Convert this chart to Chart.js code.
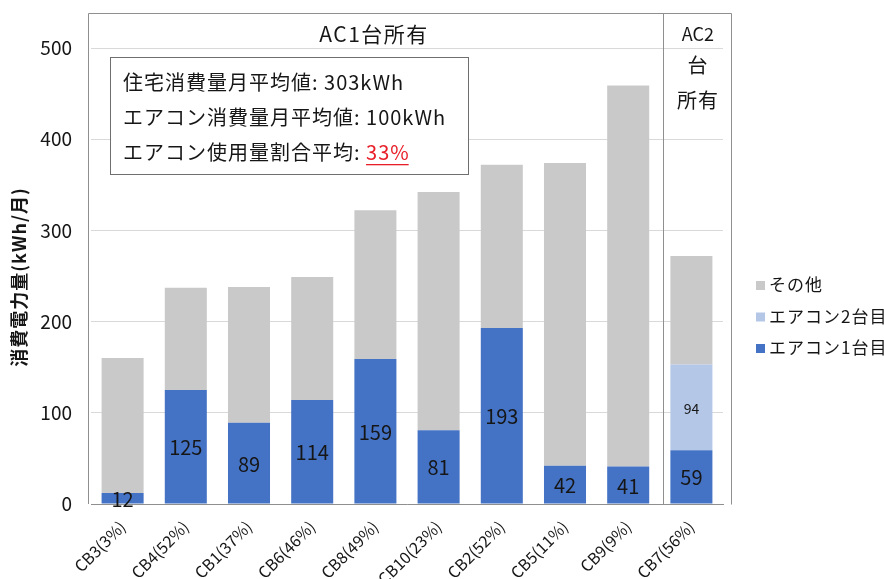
<!DOCTYPE html>
<html>
<head>
<meta charset="utf-8">
<script src="https://cdn.jsdelivr.net/npm/chart.js@4/dist/chart.umd.min.js"></script>
<style>
  html, body { margin: 0; padding: 0; background: #ffffff; }
  #wrap { width: 884px; height: 579px; }
</style>
</head>
<body>
<div id="wrap"><canvas id="c" width="884" height="579"></canvas></div>
<script>
// Monthly household consumption per home, split into air-conditioner use and the rest
const categories = ['CB3(3%)', 'CB4(52%)', 'CB1(37%)', 'CB6(46%)', 'CB8(49%)', 'CB10(23%)', 'CB2(52%)', 'CB5(11%)', 'CB9(9%)', 'CB7(56%)'];
const ac1Values = [12, 125, 89, 114, 159, 81, 193, 42, 41, 59];
const ac2Values = [null, null, null, null, null, null, null, null, null, 94];
const otherValues = [148, 112, 149, 135, 163, 261, 179, 332, 418, 119];
const seriesNames = ['エアコン1台目', 'エアコン2台目', 'その他'];
const yTickValues = [0, 100, 200, 300, 400, 500];
const yTitle = '消費電力量(kWh/月)';
const groupOneLabel = 'AC1台所有';
const groupTwoLabel = ['AC2', '台', '所有'];
const summaryLines = [
  ['住宅消費量月平均値: ', '303kWh'],
  ['エアコン消費量月平均値: ', '100kWh'],
  ['エアコン使用量割合平均: ', '33%']
];

const FONT = "'Noto Sans CJK JP', 'Noto Sans', sans-serif";
const INK = '#161616';
const COLORS = ['#4472c4', '#b4c7e7', '#c9c9c9'];

function spaced(ctx, px) {
  if ('letterSpacing' in ctx) ctx.letterSpacing = px + 'px';
}

// Frame, group headers, summary box, value labels and legend
const overlay = {
  id: 'overlay',
  afterDatasetsDraw(chart) {
    const { ctx, chartArea: a, scales } = chart;
    const x = scales.x;
    ctx.save();

    // value labels inside the air-conditioner segments
    ctx.fillStyle = INK;
    ctx.textAlign = 'center';
    ctx.textBaseline = 'middle';
    [0, 1].forEach(di => {
      const meta = chart.getDatasetMeta(di);
      const vals = chart.data.datasets[di].data;
      ctx.font = (di === 0 ? '20px ' : '14px ') + FONT;
      meta.data.forEach((bar, i) => {
        if (vals[i] == null) return;
        const cy = (bar.y + bar.base) / 2;
        ctx.fillText(String(vals[i]), bar.x, cy + 1);
      });
    });

    // outer frame and group divider
    const left = a.left - 3, right = a.right + 8, top = 13, bottom = a.bottom;
    const divX = (x.getPixelForValue(8) + x.getPixelForValue(9)) / 2 + 3;
    ctx.strokeStyle = '#8f8f8f';
    ctx.lineWidth = 1;
    ctx.beginPath();
    ctx.moveTo(left + 0.5, bottom);
    ctx.lineTo(left + 0.5, top + 0.5);
    ctx.lineTo(right + 0.5, top + 0.5);
    ctx.lineTo(right + 0.5, bottom + 0.5);
    ctx.moveTo(Math.round(divX) + 0.5, top);
    ctx.lineTo(Math.round(divX) + 0.5, bottom);
    ctx.stroke();

    // group headers
    ctx.fillStyle = INK;
    ctx.textAlign = 'center';
    spaced(ctx, 1.5);
    ctx.font = '21px ' + FONT;
    ctx.fillText(groupOneLabel, 374, 34);
    const c2 = (divX + right) / 2 + 1;
    spaced(ctx, 0);
    ctx.font = '18px ' + FONT;
    ctx.fillText(groupTwoLabel[0], c2, 34);
    ctx.font = '20px ' + FONT;
    spaced(ctx, 1);
    ctx.fillText(groupTwoLabel[1], c2, 65);
    ctx.fillText(groupTwoLabel[2], c2, 100);

    // summary box
    const bx = 110, by = 57, bw = 358, bh = 117;
    ctx.fillStyle = '#ffffff';
    ctx.fillRect(bx, by, bw, bh);
    ctx.strokeStyle = '#6f6f6f';
    ctx.strokeRect(bx + 0.5, by + 0.5, bw, bh);
    ctx.textAlign = 'left';
    spaced(ctx, 1);
    summaryLines.forEach((ln, i) => {
      const ty = 82 + i * 35;
      ctx.font = '20px ' + FONT;
      ctx.fillStyle = INK;
      ctx.fillText(ln[0], 123, ty);
      const w = ctx.measureText(ln[0]).width;
      if (i === 2) {
        ctx.fillStyle = '#e8202a';
        ctx.fillText(ln[1], 123 + w, ty);
        const vw = ctx.measureText(ln[1]).width - 1;
        ctx.fillRect(123 + w, ty + 12, vw, 1.3);
      } else {
        ctx.fillText(ln[1], 123 + w, ty);
      }
    });

    // y-axis title
    ctx.save();
    ctx.translate(19, (a.top + a.bottom) / 2 + 1);
    ctx.rotate(-Math.PI / 2);
    ctx.fillStyle = INK;
    ctx.font = 'bold 18px ' + FONT;
    spaced(ctx, 1);
    ctx.textAlign = 'center';
    ctx.fillText(yTitle, 0, 0);
    ctx.restore();

    // legend, top item is the top of the stack
    ctx.font = '17px ' + FONT;
    ctx.textAlign = 'left';
    spaced(ctx, 1);
    [2, 1, 0].forEach((di, k) => {
      const ly = 285 + k * 31.5;
      ctx.fillStyle = COLORS[di];
      ctx.fillRect(756, ly - 4, 9, 9);
      ctx.fillStyle = INK;
      ctx.fillText(chart.data.datasets[di].label, 769, ly);
    });

    ctx.restore();
  }
};

new Chart(document.getElementById('c'), {
  type: 'bar',
  data: {
    labels: categories,
    datasets: [
      { label: seriesNames[0], data: ac1Values, backgroundColor: COLORS[0] },
      { label: seriesNames[1], data: ac2Values, backgroundColor: COLORS[1] },
      { label: seriesNames[2], data: otherValues, backgroundColor: COLORS[2] }
    ]
  },
  options: {
    responsive: false,
    animation: false,
    layout: { padding: { top: 48, right: 161, bottom: 0, left: 0 } },
    datasets: { bar: { barPercentage: 0.665, categoryPercentage: 1.0 } },
    plugins: { legend: { display: false }, tooltip: { enabled: false } },
    scales: {
      x: {
        stacked: true,
        grid: { display: false },
        border: { display: true, color: '#8f8f8f', width: 1 },
        ticks: { autoSkip: false, maxRotation: 45, minRotation: 45, color: INK, font: { family: FONT, size: 16 }, padding: 5 },
        afterFit(s) { s.height = 75; }
      },
      y: {
        stacked: true,
        min: 0,
        max: 500,
        afterBuildTicks(s) { s.ticks = yTickValues.map(v => ({ value: v })); },
        grid: { color: '#d9d9d9', drawTicks: false },
        border: { display: false },
        ticks: { color: INK, font: { family: FONT, size: 19 }, padding: 19 },
        afterFit(s) { s.width = 91; }
      }
    }
  },
  plugins: [overlay]
});
</script>
</body>
</html>
